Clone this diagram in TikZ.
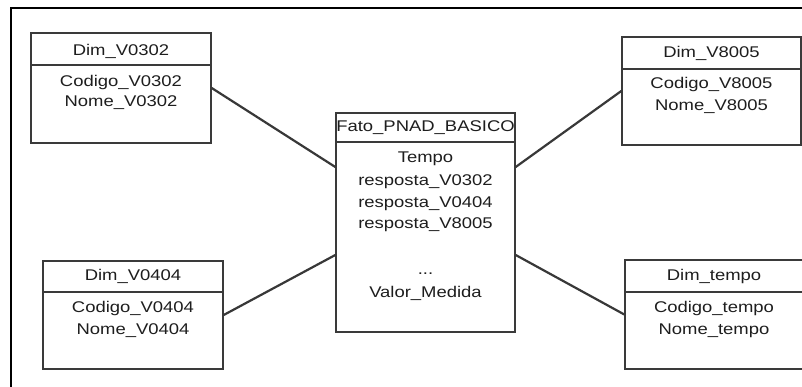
\documentclass[tikz,border=0pt]{standalone}
\usepackage{fontspec}
\setmainfont{Liberation Sans}[FakeStretch=1.19]
\definecolor{boxc}{HTML}{3A3A3A}
\definecolor{linec}{HTML}{383838}
\definecolor{txtc}{HTML}{1E1E1E}
\begin{document}
\begin{tikzpicture}[x=1pt,y=-1pt,
  font=\fontsize{15.5}{18}\selectfont,
  tbl/.style={draw=boxc, line width=1.4pt, fill=white, inner sep=0pt},
  hdr/.style={draw=boxc, line width=1.4pt, inner sep=0pt, anchor=north},
  txt/.style={anchor=base, inner sep=0pt, text=txtc},
  conn/.style={draw=linec, line width=2.2pt}]
\useasboundingbox (0,0) rectangle (802,387);
\fill[white] (0,0) rectangle (802,387);
% outer frame (cut by the picture edge)
\draw[black, line width=2.4pt] (11,400) -- (11,8) -- (820,8);

% boxes
\node[tbl, minimum width=180pt, minimum height=110pt] (d0302) at (121,88) {};
\node[hdr, minimum width=180pt, minimum height=32pt] (d0302h) at (d0302.north) {};
\node[tbl, minimum width=179pt, minimum height=108pt] (d8005) at (711.5,91) {};
\node[hdr, minimum width=179pt, minimum height=32pt] (d8005h) at (d8005.north) {};
\node[tbl, minimum width=180pt, minimum height=108pt] (d0404) at (133,315) {};
\node[hdr, minimum width=180pt, minimum height=31pt] (d0404h) at (d0404.north) {};
\node[tbl, minimum width=178pt, minimum height=109pt] (dtempo) at (714,314.5) {};
\node[hdr, minimum width=178pt, minimum height=32pt] (dtempoh) at (dtempo.north) {};
\node[tbl, minimum width=179pt, minimum height=219pt] (fato) at (425.5,222.5) {};
\node[hdr, minimum width=179pt, minimum height=29pt] (fatoh) at (fato.north) {};

% connectors
\draw[conn] (d0302.east) -- ([yshift=55.5pt]fato.west);
\draw[conn] (d8005.west) -- ([yshift=55.5pt]fato.east);
\draw[conn] (d0404.east) -- ([yshift=-32.5pt]fato.west);
\draw[conn] (dtempo.west) -- ([yshift=-32.5pt]fato.east);

% texts
\node[txt] (t1) at (121,55.5) {Dim\_V0302};
\node[txt] (t2) at (121,86.7) {Codigo\_V0302};
\node[txt] (t3) at (121,107) {Nome\_V0302};

\node[txt] (t4) at (711.5,57.2) {Dim\_V8005};
\node[txt] (t5) at (711.5,88.8) {Codigo\_V8005};
\node[txt] (t6) at (711.5,110.5) {Nome\_V8005};

\node[txt] (t7) at (133,280.5) {Dim\_V0404};
\node[txt] (t8) at (133,312.2) {Codigo\_V0404};
\node[txt] (t9) at (133,334.8) {Nome\_V0404};

\node[txt] (t10) at (714,280.5) {Dim\_tempo};
\node[txt] (t11) at (714,312.2) {Codigo\_tempo};
\node[txt] (t12) at (714,334.8) {Nome\_tempo};

\node[txt] (t13) at (425.5,131.5) {Fato\_PNAD\_BASICO};
\node[txt] (t14) at (425.5,162.7) {Tempo};
\node[txt] (t15) at (425.5,185.3) {resposta\_V0302};
\node[txt] (t16) at (425.5,207.2) {resposta\_V0404};
\node[txt] (t17) at (425.5,228.7) {resposta\_V8005};
\node[txt] (t18) at (425.5,274.5) {...};
\node[txt] (t19) at (425.5,297.2) {Valor\_Medida};
\end{tikzpicture}
\end{document}
